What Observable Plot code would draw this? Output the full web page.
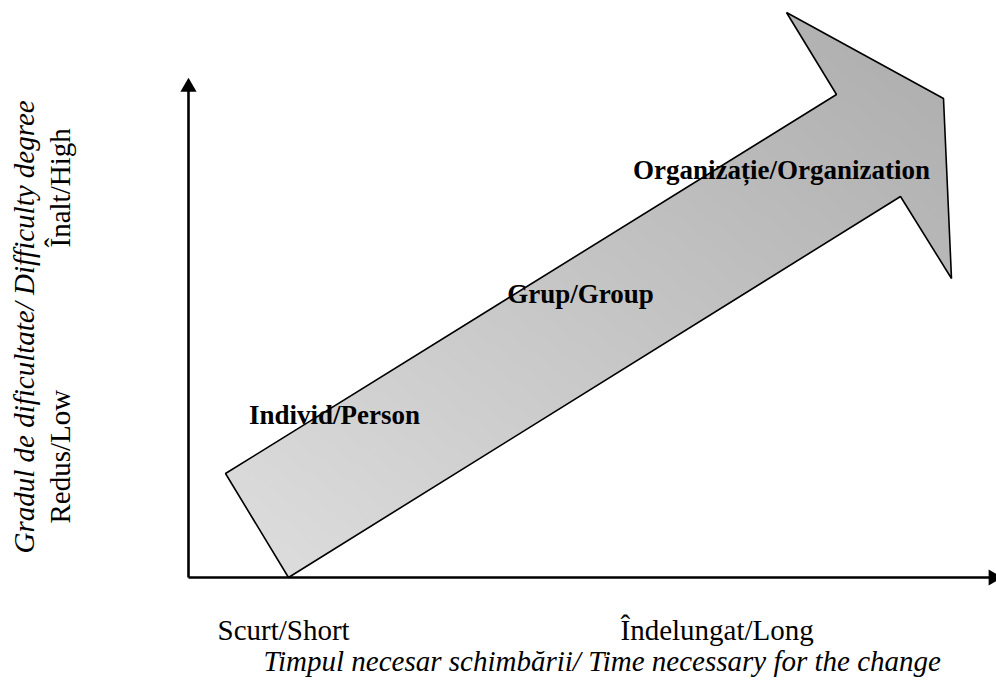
<!DOCTYPE html>
<html><head><meta charset="utf-8">
<script src="https://cdn.jsdelivr.net/npm/d3@7"></script>
<script src="https://cdn.jsdelivr.net/npm/@observablehq/plot@0.6"></script>
<style>body{margin:0;background:#fff} svg{display:block}</style>
</head><body><div id="chart"></div>
<script>
// Arrow outline (data units: x = time, y = difficulty)
const arrowX = [12.5, 4.625, 81, 74.75, 94.375, 95.375, 89];
const arrowY = [0, 20.8, 96.6, 113, 95.8, 59.8, 76.2];
// Stage labels along the arrow
const stageLabels = ["Individ/Person", "Grup/Group", "Organizație/Organization"];
const stageX = [18.25, 49, 74.125];
const stageY = [30.8, 55, 79.8];
// Axis tick labels
const xTickLabels = ["Scurt/Short", "Îndelungat/Long"];
const xTickX = [3.625, 54];
const xTickY = [-12.4, -12.4];
const yTickLabels = ["Redus/Low", "Înalt/High"];
const yTickX = [-14.875, -14.875];
const yTickY = [10.8, 66];
// Axis titles
const xTitle = ["Timpul necesar schimbării/ Time necessary for the change"];
const xTitleX = [9.375], xTitleY = [-18.6];
const yTitle = ["Gradul de dificultate/ Difficulty degree"];
const yTitleX = [-19.375], yTitleY = [4.8];
// Axis lines ends and heads
const axisX2 = [100.5, 0], axisY2 = [0, 98];
const headX = [100.6, 0], headY = [0, 98.1], headRot = [90, 0];

const arrow = arrowX.map((x, i) => ({x, y: arrowY[i]}));
const stages = stageLabels.map((t, i) => ({t, x: stageX[i], y: stageY[i]}));
const xt = xTickLabels.map((t, i) => ({t, x: xTickX[i], y: xTickY[i]}));
const yt = yTickLabels.map((t, i) => ({t, x: yTickX[i], y: yTickY[i]}));
const axes = axisX2.map((x2, i) => ({x1: 0, y1: 0, x2, y2: axisY2[i]}));
const heads = headX.map((x, i) => ({x, y: headY[i], r: headRot[i]}));

const font = "Liberation Serif, Times New Roman, serif";

const chart = Plot.plot({
  width: 996, height: 680,
  margin: 0,
  x: {domain: [-23.5, 101], axis: null},
  y: {domain: [-20.6, 115.4], axis: null},
  marks: [
    Plot.line(arrow, {x: "x", y: "y", curve: "linear-closed", fill: "url(#arrowGrad)", stroke: "black", strokeWidth: 1.6, strokeLinejoin: "miter"}),
    Plot.link(axes, {x1: "x1", y1: "y1", x2: "x2", y2: "y2", stroke: "black", strokeWidth: 2.6}),
    Plot.dot(heads, {x: "x", y: "y", rotate: "r", symbol: "triangle", r: 6, fill: "black", stroke: null}),
    Plot.text(stages, {x: "x", y: "y", text: "t", textAnchor: "middle", lineAnchor: "bottom", fontFamily: font, fontWeight: "bold", fontSize: 27, fill: "black"}),
    Plot.text(xt, {x: "x", y: "y", text: "t", textAnchor: "start", lineAnchor: "bottom", fontFamily: font, fontSize: 29, fill: "black"}),
    Plot.text(yt, {x: "x", y: "y", text: "t", textAnchor: "start", lineAnchor: "bottom", rotate: -90, fontFamily: font, fontSize: 29, fill: "black"}),
    Plot.text(xTitle, {x: xTitleX, y: xTitleY, text: d => d, textAnchor: "start", lineAnchor: "bottom", fontFamily: font, fontStyle: "italic", fontSize: 29, fill: "black"}),
    Plot.text(yTitle, {x: yTitleX, y: yTitleY, text: d => d, textAnchor: "start", lineAnchor: "bottom", rotate: -90, fontFamily: font, fontStyle: "italic", fontSize: 29, fill: "black"})
  ]
});

const defs = d3.select(chart).insert("defs", ":first-child");
const grad = defs.append("linearGradient").attr("id", "arrowGrad")
  .attr("x1", 0).attr("y1", 1).attr("x2", 1).attr("y2", 0);
grad.append("stop").attr("offset", "0%").attr("stop-color", "#dedede");
grad.append("stop").attr("offset", "100%").attr("stop-color", "#acacac");

document.getElementById("chart").appendChild(chart);
</script>
</body></html>
